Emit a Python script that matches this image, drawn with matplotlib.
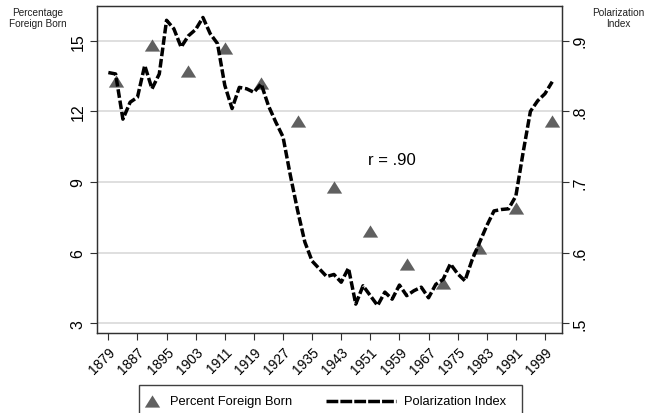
import matplotlib
matplotlib.use("Agg")
import matplotlib.pyplot as plt
from matplotlib.lines import Line2D
from matplotlib.patches import Rectangle

plt.rcParams['font.family'] = ['Liberation Sans', 'DejaVu Sans']

# === DATA =====================================================================
fb_years = [1881, 1891, 1901, 1911, 1921, 1931, 1941, 1951, 1961, 1971, 1981, 1991, 2001]
fb_pct = [13.3, 14.8, 13.7, 14.7, 13.2, 11.6, 8.8, 6.9, 5.5, 4.7, 6.2, 7.9, 11.6]

pol_years = list(range(1879, 2002, 2))
pol_index = [0.855, 0.853, 0.789, 0.813, 0.820, 0.865, 0.832, 0.853, 0.929, 0.917,
             0.891, 0.907, 0.916, 0.933, 0.910, 0.896, 0.837, 0.804, 0.834, 0.832,
             0.827, 0.839, 0.808, 0.785, 0.764, 0.710, 0.660, 0.615, 0.588, 0.577,
             0.566, 0.569, 0.558, 0.578, 0.527, 0.553, 0.539, 0.525, 0.544, 0.534,
             0.554, 0.539, 0.546, 0.551, 0.536, 0.555, 0.562, 0.584, 0.570, 0.560,
             0.590, 0.614, 0.638, 0.659, 0.661, 0.662, 0.680, 0.742, 0.800, 0.815,
             0.825, 0.842]

x_ticks = list(range(1879, 2000, 8))
left_ticks = [3, 6, 9, 12, 15]
right_ticks = [0.5, 0.6, 0.7, 0.8, 0.9]
right_labels = ['.5', '.6', '.7', '.8', '.9']

W, H = 649, 414
tri = [(-1, -0.8), (1, -0.8), (0, 0.8)]
grey = '#606060'

# === PLOT =====================================================================
fig = plt.figure(figsize=(W / 100, H / 100), dpi=100)
ax = fig.add_axes([96.7 / W, 1 - 334.3 / H, 465 / W, 327.6 / H])
ax.set_xlim(1875.8, 2003.6)
ax.set_ylim(2.57, 16.49)
ax.set_yticks(left_ticks)
ax.set_yticklabels([str(t) for t in left_ticks], rotation=90, va='center', fontsize=11.5)
ax.set_xticks(x_ticks)
ax.set_xticklabels([str(t) for t in x_ticks], rotation=45, ha='right',
                   rotation_mode='anchor', fontsize=10)
ax.tick_params(axis='both', length=5, width=0.8, color='#303030')
ax.tick_params(axis='y', pad=3)
ax.tick_params(axis='x', pad=3)
ax.grid(axis='y', color='#dcdcdc', linewidth=1.3)
ax.set_axisbelow(True)
for s in ax.spines.values():
    s.set_color('#303030')
    s.set_linewidth(0.9)

ax.plot(fb_years, fb_pct, linestyle='none', marker=tri, markersize=11,
        color=grey, markeredgewidth=0)

ax2 = ax.twinx()
ax2.set_ylim(0.5 + (2.57 - 3) / 30, 0.5 + (16.49 - 3) / 30)
ax2.set_yticks(right_ticks)
ax2.set_yticklabels(right_labels, rotation=90, va='center', fontsize=11.5)
ax2.tick_params(axis='y', length=5, width=0.8, color='#303030', pad=3)
for s in ax2.spines.values():
    s.set_color('#303030')
    s.set_linewidth(0.9)
ax2.plot(pol_years, pol_index, color='black', linewidth=2.5, dashes=(2.5, 0.8))

fig.text(368 / W, 1 - 161 / H, 'r = .90', fontsize=12, va='center', ha='left')

fig.text(37.5 / W, 1 - 18.5 / H, 'Percentage\nForeign Born', fontsize=7.2,
         ha='center', va='center', linespacing=1.05, color='#202020')
fig.text(618 / W, 1 - 18.5 / H, 'Polarization\nIndex', fontsize=7.2,
         ha='center', va='center', linespacing=1.05, color='#202020')

# === LEGEND ===================================================================
fig.patches.append(Rectangle((139 / W, 1 - 430 / H), 383 / W, 44 / H,
                             transform=fig.transFigure, fill=False,
                             edgecolor='#404040', linewidth=1))
ly = 1 - 402 / H
fig.lines.append(Line2D([152 / W], [ly], transform=fig.transFigure, marker=tri,
                        markersize=11, color=grey, markeredgewidth=0, linestyle='none'))
fig.text(170 / W, ly, 'Percent Foreign Born', fontsize=9.3, va='center', ha='left')
fig.lines.append(Line2D([326 / W, 396 / W], [ly, ly], transform=fig.transFigure,
                        color='black', linewidth=2.5, dashes=(3.4, 0.6)))
fig.text(404 / W, ly, 'Polarization Index', fontsize=9.3, va='center', ha='left')

fig.savefig('out.png', dpi=100)
